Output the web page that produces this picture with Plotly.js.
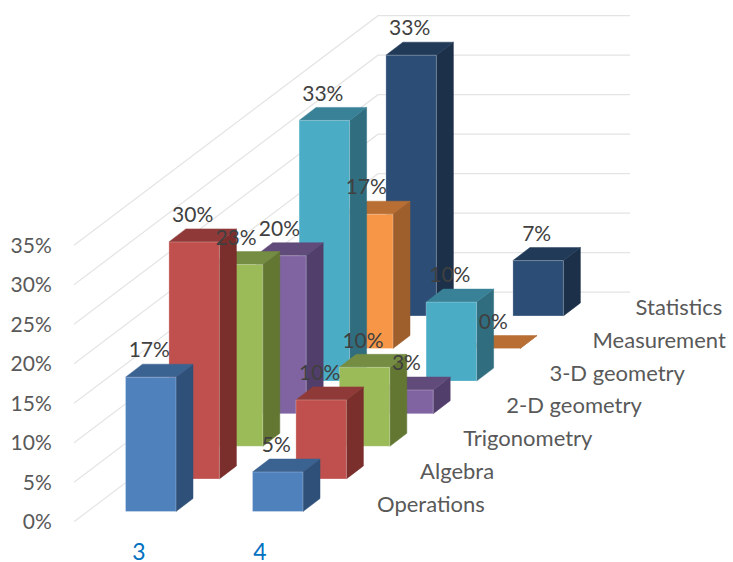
<!DOCTYPE html>
<html>
<head>
<meta charset="utf-8">
<script src="https://cdn.plot.ly/plotly-3.0.1.min.js"></script>
<style>html,body{margin:0;padding:0;background:#fff;overflow:hidden}</style>
</head>
<body>
<div id="chart" style="width:733px;height:562px"></div>
<script>
// Percent of items per grade level, one array per topic: [grade 3, grade 4]
var categories = ['3', '4'];
var seriesNames = ['Operations', 'Algebra', 'Trigonometry', '2-D geometry', '3-D geometry', 'Measurement', 'Statistics'];
var operations = [17, 5];
var algebra = [30, 10];
var trigonometry = [23, 10];
var geometry2d = [20, 3];
var geometry3d = [33, 10];
var measurement = [17, 0];
var statistics = [33, 7];
var seriesValues = [operations, algebra, trigonometry, geometry2d, geometry3d, measurement, statistics];
var percentTicks = [0, 5, 10, 15, 20, 25, 30, 35];

// Face colours per topic: front, side, top
var frontColors = ['#4F81BD', '#C0504D', '#9BBB59', '#8064A2', '#4BACC6', '#F79646', '#2C4D75'];
var sideColors = ['#2F5078', '#7A2F2D', '#637733', '#523E6A', '#306E7F', '#9E5F2C', '#1C3149'];
var topColors = ['#3B6391', '#8F3A38', '#748D42', '#604B7A', '#388197', '#B96F34', '#213A58'];

// Oblique projection of the 3-D scene onto the plot's axes.
// The x axis is measured in screen pixels, the y axis in percent.
var PX_PER_PCT = 7.9;
var FLOOR_TOP = 521.7;           // pixel row of 0% on the left wall edge
var PLOT_BOTTOM = 525;
var BAR_X0 = 125.5, BAR_Y0 = 511.5;
var CAT_STEP = 127, SER_STEP_X = 43.4, SER_STEP_Y = 32.6;
var BAR_W = 50.5, BAR_DX = 17, BAR_DY = 13 / PX_PER_PCT;
var WALL_X0 = 74, WALL_X1 = 378, WALL_END = 630, WALL_RISE = 229.5 / PX_PER_PCT;

function barX(c, s) { return BAR_X0 + c * CAT_STEP + s * SER_STEP_X; }
function barBase(s) { return (FLOOR_TOP - BAR_Y0 + s * SER_STEP_Y) / PX_PER_PCT; }

var traces = [];

function polygon(xs, ys, color, edge) {
  traces.push({
    type: 'scatter', mode: 'lines', x: xs.concat(xs[0]), y: ys.concat(ys[0]),
    fill: 'toself', fillcolor: color,
    line: {color: edge || color, width: edge ? 1 : 0.5},
    hoverinfo: 'skip', showlegend: false, cliponaxis: false
  });
}

// Wall gridlines: up the side wall, then along the back wall
percentTicks.forEach(function (t) {
  traces.push({
    type: 'scatter', mode: 'lines',
    x: [WALL_X0, WALL_X1, WALL_END],
    y: [t, t + WALL_RISE, t + WALL_RISE],
    line: {color: '#E4E4E4', width: 1.2},
    hoverinfo: 'skip', showlegend: false
  });
});

// Bars, painted from the back row to the front row
for (var s = seriesNames.length - 1; s >= 0; s--) {
  for (var c = categories.length - 1; c >= 0; c--) {
    var v = seriesValues[s][c];
    var x0 = barX(c, s), x1 = x0 + BAR_W, b = barBase(s), t = b + v;
    polygon([x1, x1 + BAR_DX, x1 + BAR_DX, x1], [b, b + BAR_DY, t + BAR_DY, t], sideColors[s]);
    polygon([x0, x1, x1 + BAR_DX, x0 + BAR_DX], [t, t, t + BAR_DY, t + BAR_DY], topColors[s]);
    polygon([x0, x1, x1, x0], [b, b, t, t], frontColors[s], 'rgba(255,255,255,0.25)');
  }
}

// Value labels above each bar
var labelX = [], labelY = [], labelText = [];
seriesNames.forEach(function (name, s) {
  categories.forEach(function (cat, c) {
    labelX.push(barX(c, s) + BAR_W / 2 - 1.5);
    labelY.push(barBase(s) + seriesValues[s][c] + 25 / PX_PER_PCT);
    labelText.push(seriesValues[s][c] + '%');
  });
});
traces.push({
  type: 'scatter', mode: 'text', x: labelX, y: labelY, text: labelText,
  textposition: 'middle center',
  textfont: {family: 'Lato, sans-serif', size: 21, color: '#404040'},
  hoverinfo: 'skip', showlegend: false, cliponaxis: false
});

// Topic names along the depth axis
traces.push({
  type: 'scatter', mode: 'text',
  x: seriesNames.map(function (n, s) { return 377 + s * 43.1; }),
  y: seriesNames.map(function (n, s) { return (FLOOR_TOP - 506 + s * 32.7) / PX_PER_PCT; }),
  text: seriesNames,
  textposition: 'middle right',
  textfont: {family: 'Lato, sans-serif', size: 22, color: '#595959'},
  hoverinfo: 'skip', showlegend: false, cliponaxis: false
});

var layout = {
  width: 733, height: 562,
  margin: {l: WALL_X0, r: 0, t: 0, b: 562 - PLOT_BOTTOM},
  paper_bgcolor: '#fff', plot_bgcolor: '#fff',
  showlegend: false,
  xaxis: {
    range: [WALL_X0, 733], showgrid: false, zeroline: false, showline: false,
    tickmode: 'array', tickvals: [139, 260], ticktext: categories,
    ticks: 'outside', ticklen: 6, tickcolor: 'rgba(0,0,0,0)',
    tickfont: {family: 'Lato, sans-serif', size: 23, color: '#0070C0'}
  },
  yaxis: {
    range: [(FLOOR_TOP - PLOT_BOTTOM) / PX_PER_PCT, FLOOR_TOP / PX_PER_PCT],
    showgrid: false, zeroline: false, showline: false,
    tickmode: 'array', tickvals: percentTicks,
    ticktext: percentTicks.map(function (t) { return t + '%'; }),
    ticks: 'outside', ticklen: 17, tickcolor: 'rgba(0,0,0,0)',
    tickfont: {family: 'Lato, sans-serif', size: 21, color: '#595959'}
  }
};

Plotly.newPlot('chart', traces, layout, {displayModeBar: false, staticPlot: true});
</script>
</body>
</html>
